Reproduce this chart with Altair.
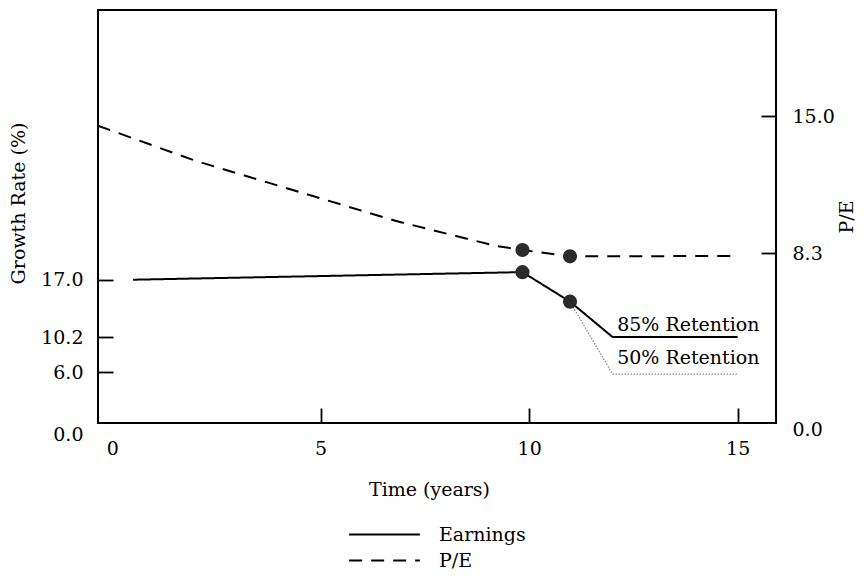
import altair as alt
import pandas as pd

# ---- data ----
# Earnings growth (%), 85% retention path
earn_t = [0.5, 9.84, 10.98, 12.0, 15.0]
earn_g = [17.0, 17.9, 14.4, 10.2, 10.2]
# Earnings growth (%), 50% retention branch
r50_t = [10.98, 12.0, 15.0]
r50_g = [14.4, 5.8, 5.8]
# P/E path
pe_t = [-0.34, 1.99, 4.39, 6.79, 9.18, 9.84, 10.98, 15.0]
pe_v = [14.54, 12.83, 11.36, 9.89, 8.67, 8.46, 8.15, 8.17]
# highlighted points
dot_t = [9.84, 10.98]
dot_earn = [17.9, 14.4]
dot_pe = [8.46, 8.15]
# annotations
ann_text = ["85% Retention", "50% Retention"]
ann_t = [12.11, 12.11]
ann_g = [10.95, 7.0]
# tick values
x_ticks = [0, 5, 10, 15]
left_ticks = [0.0, 6.0, 10.2, 17.0]
right_ticks = [0.0, 8.3, 15.0]

FONT = "DejaVu Serif"
FS = 19

earn_df = pd.DataFrame({"t": earn_t, "g": earn_g, "series": ["Earnings"] * len(earn_t)})
r50_df = pd.DataFrame({"t": r50_t, "g": r50_g})
pe_df = pd.DataFrame({"t": pe_t, "v": pe_v, "series": ["P/E"] * len(pe_t)})
dot_e_df = pd.DataFrame({"t": dot_t, "g": dot_earn})
dot_p_df = pd.DataFrame({"t": dot_t, "v": dot_pe})
ann_df = pd.DataFrame({"t": ann_t, "g": ann_g, "label": ann_text})

x_scale = alt.Scale(domain=[-0.34, 15.92], nice=False, zero=False)
yl_scale = alt.Scale(domain=[0, 49], nice=False, zero=True)
yr_scale = alt.Scale(domain=[0, 20.2], nice=False, zero=True)
dash_scale = alt.Scale(domain=["Earnings", "P/E"], range=[[1, 0], [13, 9]])

hide0 = {"condition": {"test": "datum.value == 0", "value": 0}, "value": 1}

x_axis = alt.Axis(
    values=x_ticks, format="d", title="Time (years)", orient="bottom",
    offset=-15, tickSize=15, domain=False, grid=False, labelPadding=16,
    tickOpacity=hide0, titlePadding=22, titleX=331,
)
yl_axis = alt.Axis(
    values=left_ticks, format=".1f", title="Growth Rate (%)", orient="left",
    offset=-15, tickSize=15, domain=False, grid=False, labelPadding=15,
    tickOpacity=hide0,
    labelOffset={"condition": {"test": "datum.value == 0", "value": 11}, "value": 0},
    titleAngle=270, titlePadding=12, titleY=193,
)
yr_axis = alt.Axis(
    values=right_ticks, format=".1f", title="P/E", orient="right",
    offset=-15, tickSize=15, domain=False, grid=False, labelPadding=16,
    tickOpacity=hide0,
    labelOffset={"condition": {"test": "datum.value == 0", "value": 6}, "value": 0},
    titleAngle=270, titlePadding=22,
)

legend = alt.Legend(
    title=None, orient="none", legendX=277, legendY=515, direction="vertical",
    symbolType="M-5,0H5", symbolSize=200, symbolStrokeWidth=2,
    symbolStrokeColor="black", symbolFillColor="transparent",
    labelFont=FONT, labelFontSize=FS,
    labelColor="black", rowPadding=6, labelOffset=45,
)

X = alt.X("t:Q", scale=x_scale, axis=x_axis)
YL = alt.Y("g:Q", scale=yl_scale, axis=yl_axis)
YR = alt.Y("v:Q", scale=yr_scale, axis=yr_axis)

earn_line = alt.Chart(earn_df).mark_line(color="black", strokeWidth=2).encode(
    x=X, y=YL,
    strokeDash=alt.StrokeDash("series:N", scale=dash_scale, legend=legend),
)
r50_line = alt.Chart(r50_df).mark_line(color="#8c8c8c", strokeWidth=1.3, strokeDash=[1.5, 1.5]).encode(
    x=X, y=YL,
)
e_dots = alt.Chart(dot_e_df).mark_circle(color="#2b2b2b", size=200, opacity=1).encode(
    x=X, y=YL,
)
ann = alt.Chart(ann_df).mark_text(
    align="left", baseline="alphabetic", font=FONT, fontSize=FS, color="black"
).encode(
    x=X, y=YL, text="label:N",
)
left = alt.layer(earn_line, r50_line, e_dots, ann)

pe_line = alt.Chart(pe_df).mark_line(color="black", strokeWidth=2).encode(
    x=X, y=YR,
    strokeDash=alt.StrokeDash("series:N", scale=dash_scale, legend=legend),
)
p_dots = alt.Chart(dot_p_df).mark_circle(color="#2b2b2b", size=200, opacity=1).encode(
    x=X, y=YR,
)
right = alt.layer(pe_line, p_dots)

chart = alt.layer(left, right).resolve_scale(y="independent").properties(
    width=678, height=413,
    padding={"left": 90, "top": 2, "right": 84, "bottom": 148},
    autosize=alt.AutoSizeParams(type="none"),
    background="white",
).configure_axis(
    labelFont=FONT, titleFont=FONT, labelFontSize=FS, titleFontSize=FS,
    labelColor="black", titleColor="black", tickColor="black",
    titleFontWeight="normal", tickWidth=1.8,
).configure_view(stroke="black", strokeWidth=2)

chart.save("out.html", embed_options={"renderer": "svg", "actions": False})
